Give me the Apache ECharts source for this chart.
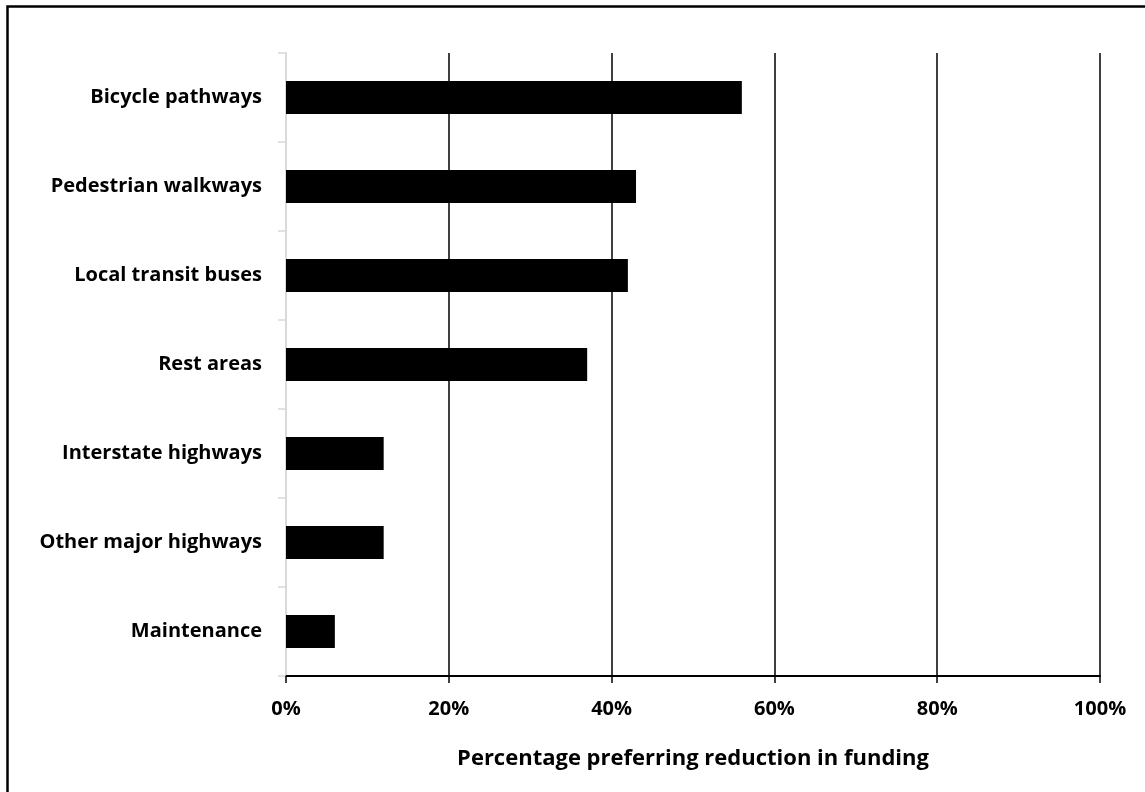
<!DOCTYPE html>
<html>
<head>
<meta charset="utf-8">
<script src="https://cdn.jsdelivr.net/npm/echarts@6/dist/echarts.min.js"></script>
<style>
  html, body { margin: 0; padding: 0; background: #fff; }
  #chart { width: 1145px; height: 792px; }
</style>
</head>
<body>
<div id="chart"></div>
<script>
// Share of respondents preferring a funding cut, by program (top to bottom)
const categories = [
  'Bicycle pathways',
  'Pedestrian walkways',
  'Local transit buses',
  'Rest areas',
  'Interstate highways',
  'Other major highways',
  'Maintenance'
];
const reductionPct = [56, 43, 42, 37, 12, 12, 6];
const xTicks = [0, 20, 40, 60, 80, 100];
const xAxisTitle = 'Percentage preferring reduction in funding';

const FONT = '"Open Sans", "DejaVu Sans", sans-serif';

const chart = echarts.init(document.getElementById('chart'), null, { renderer: 'canvas' });

chart.setOption({
  backgroundColor: '#ffffff',
  animation: false,
  graphic: [{
    type: 'rect',
    shape: { x: 7.5, y: 6.5, width: 1300, height: 1000 },
    style: { fill: 'none', stroke: '#000', lineWidth: 2.5 },
    silent: true,
    z: 100
  }],
  grid: { left: 286, right: 45, top: 53, bottom: 116, containLabel: false },
  xAxis: {
    type: 'value',
    min: xTicks[0],
    max: xTicks[xTicks.length - 1],
    interval: xTicks[1] - xTicks[0],
    name: xAxisTitle,
    nameLocation: 'middle',
    nameGap: 72,
    nameTextStyle: { fontFamily: FONT, fontWeight: 'bold', fontSize: 22, color: '#000' },
    axisLine: { show: true, lineStyle: { color: '#000', width: 2 } },
    axisTick: { show: true, length: 7, lineStyle: { color: '#000', width: 1.5 } },
    axisLabel: {
      fontFamily: FONT, fontWeight: 'bold', fontSize: 20, color: '#000', margin: 23,
      formatter: '{value}%'
    },
    splitLine: { show: true, showMinLine: false, lineStyle: { color: '#000', width: 1.5 } }
  },
  yAxis: {
    type: 'category',
    data: categories,
    inverse: true,
    axisLine: { show: true, lineStyle: { color: '#d9d9d9', width: 2 } },
    axisTick: { show: true, length: 8, lineStyle: { color: '#d9d9d9', width: 1.5 } },
    axisLabel: { fontFamily: FONT, fontWeight: 'bold', fontSize: 20, color: '#000', margin: 24 },
    splitLine: { show: false }
  },
  series: [{
    type: 'bar',
    data: reductionPct,
    barCategoryGap: '63%',
    itemStyle: { color: '#000' },
    z: 3
  }]
});
</script>
</body>
</html>
